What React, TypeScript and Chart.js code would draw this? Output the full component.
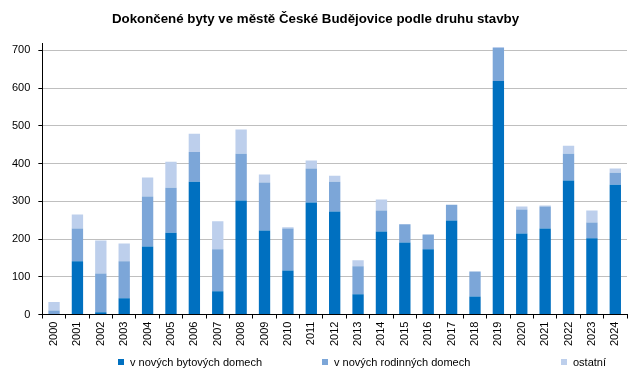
import React, { useEffect, useRef } from "react";
import { Chart, registerables } from "chart.js";

Chart.register(...registerables);

const years = ["2000","2001","2002","2003","2004","2005","2006","2007","2008","2009","2010","2011","2012","2013","2014","2015","2016","2017","2018","2019","2020","2021","2022","2023","2024"];
const bytove = [0,141,6,43,180,217,352,62,302,223,117,297,273,54,220,191,173,249,48,619,215,228,355,202,344];
const rodinne = [11,87,103,98,133,119,79,111,124,127,111,90,79,74,56,48,39,42,66,87,63,58,71,42,32];
const ostatni = [22,37,87,47,50,69,48,74,64,21,3,21,16,16,29,0,0,0,0,3,8,3,21,32,11];
const yTickValues = [0, 100, 200, 300, 400, 500, 600, 700];

const seriesNames = ["v nových bytových domech", "v nových rodinných domech", "ostatní"];
const colors = ["#0070C0", "#7CA6D8", "#BDCFEC"];
const titleText = "Dokončené byty ve městě České Budějovice podle druhu stavby";
const FONT = "'Liberation Sans', Arial, sans-serif";
const Y_MAX = 717;

export default function App() {
  const ref = useRef<HTMLCanvasElement | null>(null);
  useEffect(() => {
    document.body.style.margin = "0";
    const ctx = ref.current!;
    const chart = new Chart(ctx, {
      type: "bar",
      data: {
        labels: years,
        datasets: [bytove, rodinne, ostatni].map((d, i) => ({
          label: seriesNames[i],
          data: d,
          backgroundColor: colors[i],
          borderWidth: 0,
          barPercentage: 0.485,
          categoryPercentage: 1,
        })),
      },
      options: {
        animation: false,
        responsive: false,
        maintainAspectRatio: false,
        layout: { padding: { left: 4, right: 16, top: 0, bottom: 29 } },
        plugins: {
          legend: { display: false },
          tooltip: { enabled: false },
          title: {
            display: true,
            text: titleText,
            color: "#000",
            font: { family: FONT, size: 13.3, weight: "bold" },
            padding: { top: 11, bottom: 17 },
          },
        },
        scales: {
          x: {
            stacked: true,
            border: { color: "#000", width: 1 },
            grid: { offset: true, drawOnChartArea: false, drawTicks: true, tickLength: 4, tickColor: "#000" },
            ticks: { color: "#000", font: { family: FONT, size: 11 }, minRotation: 90, maxRotation: 90, padding: 3, autoSkip: false },
          },
          y: {
            stacked: true,
            min: 0,
            max: Y_MAX,
            border: { color: "#000", width: 1 },
            grid: { color: "#BFBFBF", lineWidth: 1, tickLength: 4, tickColor: "#000" },
            ticks: { color: "#000", font: { family: FONT, size: 11 }, padding: 8 },
            afterBuildTicks: (scale: any) => {
              scale.ticks = yTickValues.map((v) => ({ value: v }));
            },
          },
        },
      },
    });
    return () => chart.destroy();
  }, []);

  const legendPos = [118, 322, 561];
  return (
    <div style={{ position: "relative", width: 643, height: 378, background: "#fff" }}>
      <canvas ref={ref} width={643} height={378} style={{ display: "block" }} />
      {seriesNames.map((n, i) => (
        <div
          key={n}
          style={{
            position: "absolute",
            left: legendPos[i],
            top: 356,
            display: "flex",
            alignItems: "center",
            fontFamily: FONT,
            fontSize: 11,
            color: "#000",
            whiteSpace: "nowrap",
          }}
        >
          <span style={{ display: "inline-block", width: 6, height: 6, background: colors[i], marginRight: 6 }} />
          {n}
        </div>
      ))}
    </div>
  );
}
